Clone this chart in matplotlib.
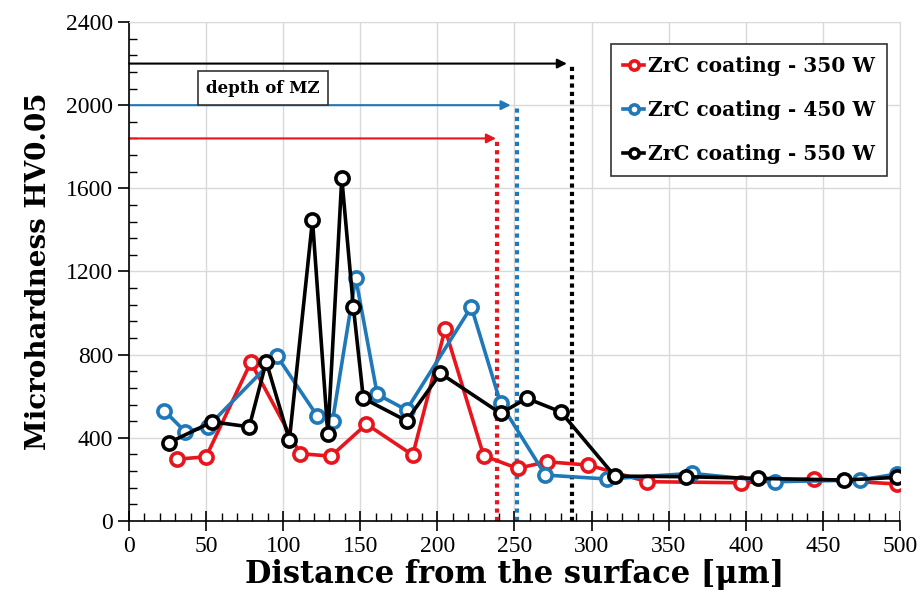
#!/usr/bin/env python3
"""Microhardness profiles of ZrC coatings at three laser powers."""

import matplotlib

matplotlib.use("Agg")
import matplotlib.pyplot as plt
from matplotlib.ticker import MultipleLocator

# ZrC coating - 350 W
x_350 = [31, 50, 79, 111, 131, 154, 184, 205, 230, 252, 271, 298, 336, 397, 444, 498]
y_350 = [297, 309, 763, 324, 312, 466, 317, 923, 314, 253, 285, 269, 189, 184, 202, 178]

# ZrC coating - 450 W
x_450 = [23, 36.5, 51, 96, 122, 132, 147, 161, 180, 222, 241, 270, 310, 365, 419, 474, 498]
y_450 = [530, 429, 453, 793, 506, 482, 1170, 609, 534, 1030, 566, 221, 202, 229, 189, 197, 226]

# ZrC coating - 550 W
x_550 = [26, 54, 78, 89, 104, 119, 129, 138, 145.5, 152, 180, 202, 241, 258, 280, 315, 361, 408, 464, 498]
y_550 = [377, 477, 453, 766, 389, 1447, 417, 1649, 1030, 590, 482, 710, 518, 590, 525, 216, 213, 205, 197, 210]

labels = ["ZrC coating - 350 W", "ZrC coating - 450 W", "ZrC coating - 550 W"]
colors = ["#e8161c", "#1f78b8", "#000000"]

# depth of melted zone: (depth, arrow height, arrow tip)
mz_depth = [238.5, 251.5, 287]
mz_level = [1840, 2000, 2200]
mz_tip = [238, 247.5, 284]

plt.rcParams["font.family"] = ["Liberation Serif", "DejaVu Serif"]
BOLD = ["DejaVu Serif"]

fig = plt.figure(figsize=(9.24, 6.11), dpi=100)
ax = fig.add_axes([0.1396, 0.1473, 0.8344, 0.8167])

for xs, ys, lab, c in zip([x_350, x_450, x_550], [y_350, y_450, y_550], labels, colors):
    ax.plot(xs, ys, "-o", color=c, lw=2.6, ms=9.5, mfc="white", mec=c, mew=2.6,
            label=lab, zorder=3)

for d, lvl, tip, c in zip(mz_depth, mz_level, mz_tip, colors):
    ax.plot([d, d], [0, lvl], ls=(0, (1, 1)), color=c, lw=3, zorder=2)
    ax.annotate("", xy=(tip, lvl), xytext=(0, lvl),
                arrowprops=dict(arrowstyle="-|>", color=c, lw=1.5, mutation_scale=14,
                                shrinkA=0, shrinkB=0), zorder=2)

ax.text(87, 2082, "depth of MZ", ha="center", va="center", fontsize=12, fontweight="bold",
        family=BOLD,
        bbox=dict(boxstyle="square,pad=0.5", fc="white", ec="#333333", lw=1.2), zorder=4)

ax.set_xlim(0, 500)
ax.set_ylim(0, 2400)
ax.xaxis.set_major_locator(MultipleLocator(50))
ax.xaxis.set_minor_locator(MultipleLocator(10))
ax.yaxis.set_major_locator(MultipleLocator(400))
ax.yaxis.set_minor_locator(MultipleLocator(80))
ax.grid(True, which="major", color="#d9d9d9", lw=1)
ax.set_axisbelow(True)

ax.tick_params(axis="both", which="major", labelsize=17, length=8, width=1.2, direction="out")
ax.tick_params(axis="x", which="major", direction="inout", length=14)
ax.tick_params(axis="both", which="minor", length=6, width=1, direction="in")
for s in ["top", "right"]:
    ax.spines[s].set_color("#d9d9d9")
for s in ["left", "bottom"]:
    ax.spines[s].set_linewidth(1.2)

ax.set_xlabel("Distance from the surface [μm]", fontsize=22, fontweight="bold", family=BOLD,
              labelpad=2)
ax.set_ylabel("Microhardness HV0.05", fontsize=20, fontweight="bold", family=BOLD,
              labelpad=10)

leg = ax.legend(loc="upper right", bbox_to_anchor=(0.996, 0.977),
                prop={"family": BOLD, "weight": "bold", "size": 14.5}, handlelength=1.0,
                handletextpad=0.2, borderpad=0.6, labelspacing=1.2, fancybox=False,
                framealpha=1, edgecolor="#333333", markerscale=0.7)
leg.get_frame().set_linewidth(1.2)

fig.savefig("out.png", dpi=100)
